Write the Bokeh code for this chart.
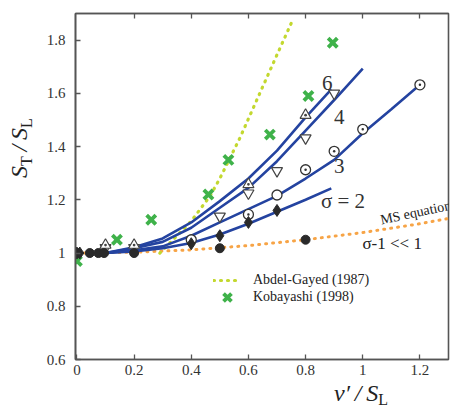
from bokeh.plotting import figure
from bokeh.models import (Range1d, LinearAxis, FixedTicker, Legend, LegendItem,
                          ColumnDataSource, Div)
from bokeh.layouts import row, column
from bokeh.core.properties import value
from bokeh.embed import file_html
from bokeh.resources import INLINE

# ---------------- data ----------------
x_ticks = [0, 0.2, 0.4, 0.6, 0.8, 1.0, 1.2]
x_tick_labels = ["0", "0.2", "0.4", "0.6", "0.8", "1", "1.2"]
y_ticks = [0.6, 0.8, 1.0, 1.2, 1.4, 1.6, 1.8]
y_tick_labels = ["0.6", "0.8", "1", "1.2", "1.4", "1.6", "1.8"]

# model curves for sigma = 6, 4, 3, 2
s6_x = [0.1, 0.2, 0.3, 0.4, 0.5, 0.6, 0.7, 0.8, 0.89]
s6_y = [1.0, 1.022, 1.055, 1.115, 1.195, 1.28, 1.385, 1.51, 1.615]
s4_x = [0.1, 0.2, 0.3, 0.4, 0.5, 0.6, 0.7, 0.8, 0.9, 1.0]
s4_y = [1.0, 1.018, 1.042, 1.095, 1.17, 1.245, 1.345, 1.46, 1.575, 1.693]
s3_x = [0.1, 0.2, 0.3, 0.4, 0.5, 0.6, 0.7, 0.8, 0.9, 1.0, 1.1, 1.2]
s3_y = [1.0, 1.01, 1.025, 1.065, 1.115, 1.165, 1.215, 1.28, 1.35, 1.45, 1.54, 1.632]
s2_x = [0.1, 0.2, 0.3, 0.4, 0.5, 0.6, 0.7, 0.8, 0.89]
s2_y = [1.0, 1.006, 1.018, 1.038, 1.07, 1.11, 1.155, 1.2, 1.243]

# MS equation (sigma-1 << 1)
ms_x = [0.0, 0.2, 0.4, 0.6, 0.8, 1.0, 1.2, 1.3]
ms_y = [1.0, 1.003, 1.012, 1.028, 1.05, 1.077, 1.11, 1.13]

# Abdel-Gayed (1987) correlation
ag_x = [0.29, 0.35, 0.4, 0.465, 0.5, 0.57, 0.65, 0.7, 0.755]
ag_y = [1.0, 1.065, 1.12, 1.213, 1.28, 1.432, 1.625, 1.745, 1.876]

# Kobayashi (1998) experiments
kb_x = [0.0, 0.14, 0.26, 0.46, 0.53, 0.675, 0.81, 0.895]
kb_y = [0.97, 1.05, 1.125, 1.22, 1.35, 1.445, 1.59, 1.79]

# simulation points
pt_lin_x = [0.0, 0.045, 0.075, 0.095, 0.2, 0.5, 0.8]
pt_lin_y = [1.0, 1.0, 1.0, 1.0, 1.0, 1.018, 1.05]
pt_s2_x = [0.0, 0.01, 0.4, 0.5, 0.6, 0.7]
pt_s2_y = [1.0, 1.0, 1.035, 1.065, 1.115, 1.16]
pt_s3_open_x = [0.4, 0.7]
pt_s3_open_y = [1.05, 1.218]
pt_s3_dot_x = [0.6, 0.8, 0.9, 1.0, 1.2]
pt_s3_dot_y = [1.145, 1.313, 1.382, 1.465, 1.632]
pt_s4_x = [0.1, 0.2, 0.5, 0.6, 0.7, 0.8, 0.9]
pt_s4_y = [1.02, 1.02, 1.138, 1.225, 1.309, 1.432, 1.60]
pt_s6_x = [0.1, 0.2, 0.6, 0.8]
pt_s6_y = [1.03, 1.03, 1.258, 1.518]

curve_labels = ["6", "4", "3", "\u03c3 = 2"]
curve_label_x = [0.876, 0.918, 0.918, 0.931]
curve_label_y = [1.64, 1.513, 1.326, 1.194]

legend_labels = ["Abdel-Gayed (1987)", "Kobayashi (1998)"]

# ---------------- styles ----------------
SERIF = "Liberation Serif, serif"
BLUE = "#2443a0"
GREEN = "#3fb24a"
YG = "#c3d82f"
ORANGE = "#f7a446"
DARK = "#2a2a2a"
AXIS = "#555555"

LEFT_W = 36
p = figure(width=462 - LEFT_W, height=383, output_backend="svg", toolbar_location=None,
           x_range=Range1d(-0.005, 1.3), y_range=Range1d(0.6, 1.9),
           min_border_left=75 - LEFT_W, min_border_right=14, min_border_top=13,
           min_border_bottom=24, background_fill_color="white",
           border_fill_color="white")
p.xgrid.visible = False
p.ygrid.visible = False
p.outline_line_color = AXIS
p.outline_line_width = 1.6

for ax, ticks, labels in ((p.xaxis[0], x_ticks, x_tick_labels), (p.yaxis[0], y_ticks, y_tick_labels)):
    ax.ticker = FixedTicker(ticks=ticks)
    ax.major_label_overrides = {t: l for t, l in zip(ticks, labels)}
    ax.major_tick_in = 5
    ax.major_tick_out = 0
    ax.minor_tick_in = 0
    ax.minor_tick_out = 0
    ax.axis_line_color = AXIS
    ax.axis_line_width = 1.6
    ax.major_tick_line_color = AXIS
    ax.major_tick_line_width = 1.3
    ax.major_label_text_font = SERIF
    ax.major_label_text_font_size = "15px"
    ax.major_label_text_color = "#333333"
p.yaxis[0].major_label_standoff = 10
p.xaxis[0].major_label_standoff = 5

top = LinearAxis(ticker=FixedTicker(ticks=x_ticks[1:]), major_tick_in=5, major_tick_out=0,
                 minor_tick_in=0, minor_tick_out=0, axis_line_color=AXIS, axis_line_width=1.6,
                 major_tick_line_color=AXIS, major_tick_line_width=1.3,
                 major_label_text_font_size="1px", major_label_text_color=None,
                 major_label_standoff=0)
p.add_layout(top, "above")

# curves
p.line(ms_x, ms_y, line_color=ORANGE, line_width=3, line_dash="1 6", line_cap="round")
ag = p.line(ag_x, ag_y, line_color=YG, line_width=3.2, line_dash="1 6", line_cap="round")
for cx, cy in ((s6_x, s6_y), (s4_x, s4_y), (s3_x, s3_y), (s2_x, s2_y)):
    p.line(cx, cy, line_color=BLUE, line_width=2.6)

# points
kb = p.scatter(kb_x, kb_y, marker="x", size=13, line_color=GREEN, line_width=3.8)
p.scatter(pt_s4_x, pt_s4_y, marker="inverted_triangle", size=11, fill_color="white",
          line_color="#444444", line_width=1.2)
p.scatter(pt_s6_x, pt_s6_y, marker="triangle_dot", size=11, fill_color="white",
          line_color="#444444", line_width=1.2)
p.scatter(pt_s3_open_x, pt_s3_open_y, marker="circle", size=10, fill_color="white",
          line_color="#333333", line_width=1.3)
p.scatter(pt_s3_dot_x, pt_s3_dot_y, marker="circle_dot", size=10, fill_color="white",
          line_color="#333333", line_width=1.3)
p.scatter(pt_s2_x, pt_s2_y, marker="diamond", size=12, fill_color=DARK, line_color=DARK)
p.scatter(pt_lin_x, pt_lin_y, marker="circle", size=9, fill_color=DARK, line_color=DARK)

# curve labels
src = ColumnDataSource(dict(x=curve_label_x, y=curve_label_y, t=curve_labels))
p.text(x="x", y="y", text="t", source=src, text_font=value(SERIF), text_font_size="21px",
       text_color="#333333", text_align="center", text_baseline="middle")
p.text(x=[1.185], y=[1.152], text=["MS equation"], text_font=value(SERIF),
       text_font_size="14px", text_color="#222222", text_align="center",
       text_baseline="middle", angle=0.21)
p.text(x=[1.103], y=[1.036], text=["\u03c3-1 << 1"], text_font=value(SERIF),
       text_font_size="17px", text_color="#222222", text_align="center",
       text_baseline="middle")

# legend: one legend per entry, tall glyph boxes so the legend cross is full size
for lbl, rend, ybot in ((legend_labels[0], ag, 64), (legend_labels[1], kb, 47)):
    leg = Legend(items=[LegendItem(label=lbl, renderers=[rend])],
                 location=(138, ybot), orientation="vertical", padding=0, margin=0,
                 spacing=0, glyph_width=28, glyph_height=30, label_height=30,
                 label_standoff=12, label_text_font=SERIF, label_text_font_size="14px",
                 label_text_color="#222222", border_line_alpha=0, background_fill_alpha=0)
    p.add_layout(leg, "center")

# axis titles as HTML text (with real subscripts)
FONT_CSS = "font-family:'Liberation Serif',serif;color:#222;white-space:nowrap;"
ylab_html = ('<div style="position:absolute;left:7px;top:178px;transform:rotate(-90deg);'
             'transform-origin:left top;font-size:24px;line-height:1;' + FONT_CSS + '">'
             '<i>S</i><span style="font-size:16px;position:relative;top:5px;">T</span>'
             '<i>&thinsp;/&thinsp;S</i><span style="font-size:16px;position:relative;top:5px;">L</span>'
             '</div>')
xlab_html = ('<div style="position:absolute;left:298px;top:1px;font-size:24px;line-height:0.8;' + FONT_CSS + '">'
             '<i>v&prime;&thinsp;/&thinsp;S</i><span style="font-size:16px;position:relative;top:4px;line-height:0.8;">L</span>'
             '</div>')
ydiv = Div(text=ylab_html, width=LEFT_W, height=407, margin=0,
           styles={"position": "relative", "overflow": "visible"})
xdiv = Div(text=xlab_html, width=462 - LEFT_W, height=24, margin=0,
           styles={"position": "relative", "overflow": "visible"})

layout = row(ydiv, column(p, xdiv, spacing=0), spacing=0)
open("out.html", "w").write(file_html(layout, INLINE))
